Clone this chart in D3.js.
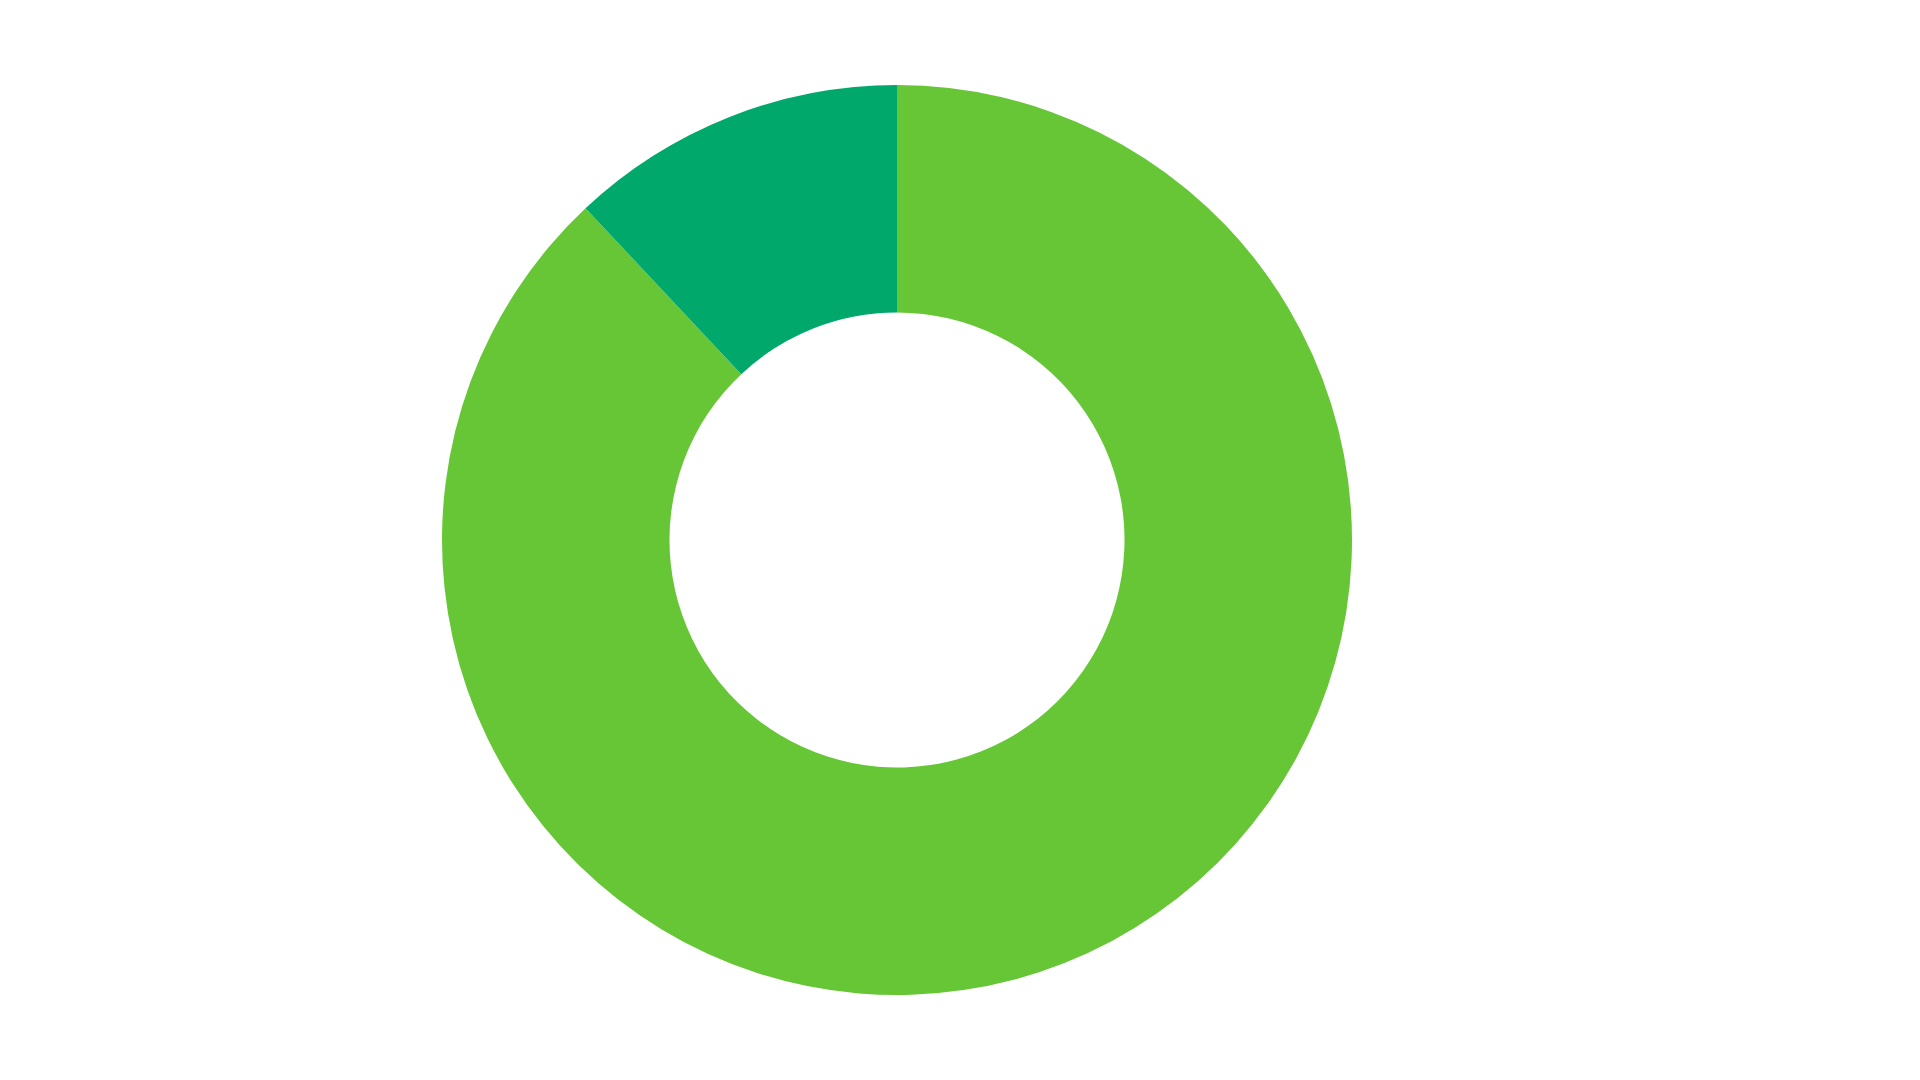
<!DOCTYPE html>
<html>
<head>
<meta charset="utf-8">
<script src="https://cdn.jsdelivr.net/npm/d3@7/dist/d3.min.js"></script>
<style>
  html, body { margin: 0; padding: 0; background: #ffffff; }
  svg { display: block; }
</style>
</head>
<body>
<script>
const categories = ["A", "B"];
const values = [88, 12];
const colors = ["#66C636", "#00A86B"];

const width = 1920, height = 1080;
const cx = 897, cy = 540;
const outerR = 455, innerR = 227.5;

const svg = d3.select("body").append("svg")
  .attr("width", width)
  .attr("height", height);

const data = categories.map((c, i) => ({ name: c, value: values[i] }));

const pie = d3.pie().value(d => d.value).sort(null);
const arc = d3.arc().innerRadius(innerR).outerRadius(outerR);
const color = d3.scaleOrdinal().domain(categories).range(colors);

svg.append("g")
  .attr("transform", `translate(${cx},${cy})`)
  .selectAll("path")
  .data(pie(data))
  .join("path")
  .attr("d", arc)
  .attr("fill", d => color(d.data.name));
</script>
</body>
</html>
